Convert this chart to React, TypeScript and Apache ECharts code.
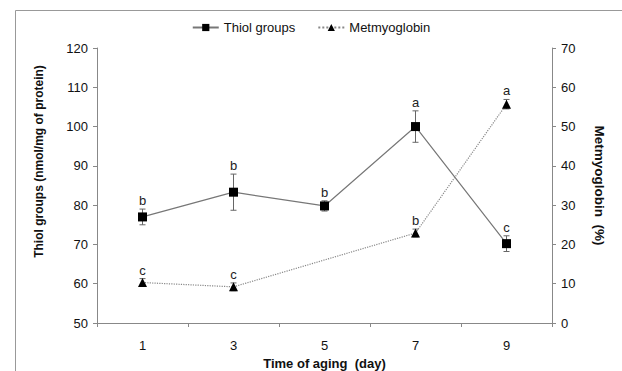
import React, { useEffect, useRef } from "react";
import * as echarts from "echarts";

const days = ["1", "3", "5", "7", "9"];
const thiol = [77, 83.3, 79.8, 100, 70.2];
const thiolErr = [2, 4.6, 1.3, 4, 2];
const thiolLetters = ["b", "b", "b", "a", "c"];
const metmyo: (number | null)[] = [10.3, 9.2, null, 22.9, 55.7];
const metmyoErr: (number | null)[] = [1, 1, null, 1, 1.2];
const metmyoLetters = ["c", "c", "", "b", "a"];

const FONT = "Liberation Sans, Arial, sans-serif";

function errData(vals: (number | null)[], errs: (number | null)[]) {
  const out: number[][] = [];
  vals.forEach((v, i) => {
    if (v == null) return;
    const e = errs[i] ?? 0;
    out.push([i, v - e, v + e]);
  });
  return out;
}

function makeRender(letters: string[]) {
  return (params: any, api: any) => {
    const idx = api.value(0);
    const lo = api.coord([idx, api.value(1)]);
    const hi = api.coord([idx, api.value(2)]);
    const x = lo[0];
    const cap = 3;
    const st = { stroke: "#666", lineWidth: 1 };
    return {
      type: "group",
      children: [
        { type: "line", shape: { x1: x, y1: lo[1], x2: x, y2: hi[1] }, style: st },
        { type: "line", shape: { x1: x - cap, y1: lo[1], x2: x + cap, y2: lo[1] }, style: st },
        { type: "line", shape: { x1: x - cap, y1: hi[1], x2: x + cap, y2: hi[1] }, style: st },
        {
          type: "text",
          x: x,
          y: hi[1] - 2,
          style: {
            text: letters[idx],
            fill: "#222",
            font: "13px " + FONT,
            textAlign: "center",
            textVerticalAlign: "bottom",
          },
        },
      ],
    };
  };
}

export default function App() {
  const ref = useRef<HTMLDivElement>(null);
  useEffect(() => {
    if (!ref.current) return;
    const chart = echarts.init(ref.current, null, { renderer: "svg" });
    const axisLine = { lineStyle: { color: "#888", width: 1 } };
    const axisLabel = { color: "#111", fontSize: 13, fontFamily: FONT };
    const nameStyle = { color: "#111", fontSize: 13.5, fontWeight: "bold" as const, fontFamily: FONT };
    chart.setOption({
      animation: false,
      backgroundColor: "#fff",
      textStyle: { fontFamily: FONT },
      grid: { left: 97, right: 70, top: 48, bottom: 48, outerBoundsMode: "none", containLabel: false },
      legend: {
        top: 16,
        left: "center",
        itemWidth: 26,
        itemHeight: 9,
        itemGap: 22,
        textStyle: { color: "#111", fontSize: 13, fontFamily: FONT },
        data: ["Thiol groups", "Metmyoglobin"],
      },
      graphic: [
        { type: "line", shape: { x1: 15.5, y1: 10.5, x2: 622, y2: 10.5 }, style: { stroke: "#999", lineWidth: 1 } },
        { type: "line", shape: { x1: 15.5, y1: 10.5, x2: 15.5, y2: 371 }, style: { stroke: "#999", lineWidth: 1 } },
      ],
      xAxis: {
        type: "category",
        data: days,
        boundaryGap: true,
        axisLine,
        axisTick: { show: true, lineStyle: { color: "#888" }, length: 4 },
        axisLabel: { ...axisLabel, margin: 16 },
        name: "Time of aging  (day)",
        nameLocation: "middle",
        nameGap: 31,
        nameTextStyle: { ...nameStyle, fontSize: 13 },
      },
      yAxis: [
        {
          type: "value",
          min: 50,
          max: 120,
          interval: 10,
          axisLine: { show: true, ...axisLine },
          axisTick: { show: true, lineStyle: { color: "#888" }, length: 4 },
          axisLabel: { ...axisLabel, margin: 9 },
          splitLine: { show: false },
          name: "Thiol groups (nmol/mg of protein)",
          nameLocation: "middle",
          nameRotate: 90,
          nameGap: 52,
          nameTextStyle: { ...nameStyle, fontSize: 12, padding: [0, 0, 0, 48] },
        },
        {
          type: "value",
          min: 0,
          max: 70,
          interval: 10,
          position: "right",
          axisLine: { show: true, ...axisLine },
          axisTick: { show: true, lineStyle: { color: "#888" }, length: 4 },
          axisLabel: { ...axisLabel, margin: 9 },
          splitLine: { show: false },
          name: "Metmyoglobin  (%)",
          nameLocation: "middle",
          nameRotate: -90,
          nameGap: 40,
          nameTextStyle: nameStyle,
        },
      ],
      series: [
        {
          name: "Thiol groups",
          type: "line",
          yAxisIndex: 0,
          data: thiol,
          symbol: "rect",
          symbolSize: 9,
          itemStyle: { color: "#000" },
          lineStyle: { color: "#777", width: 1.2, type: "solid" },
          z: 3,
        },
        {
          name: "Metmyoglobin",
          type: "line",
          yAxisIndex: 1,
          data: metmyo,
          connectNulls: true,
          symbol: "triangle",
          symbolSize: 9,
          itemStyle: { color: "#000" },
          lineStyle: { color: "#888", width: 1.2, type: "dotted" },
          z: 3,
        },
        {
          type: "custom",
          yAxisIndex: 0,
          data: errData(thiol, thiolErr),
          renderItem: makeRender(thiolLetters),
          z: 2,
          silent: true,
        },
        {
          type: "custom",
          yAxisIndex: 1,
          data: errData(metmyo, metmyoErr),
          renderItem: makeRender(metmyoLetters),
          z: 2,
          silent: true,
        },
      ],
    });
    return () => chart.dispose();
  }, []);
  return (
    <div
      ref={ref}
      style={{ position: "fixed", left: 0, top: 0, width: 622, height: 371, background: "#fff" }}
    />
  );
}
